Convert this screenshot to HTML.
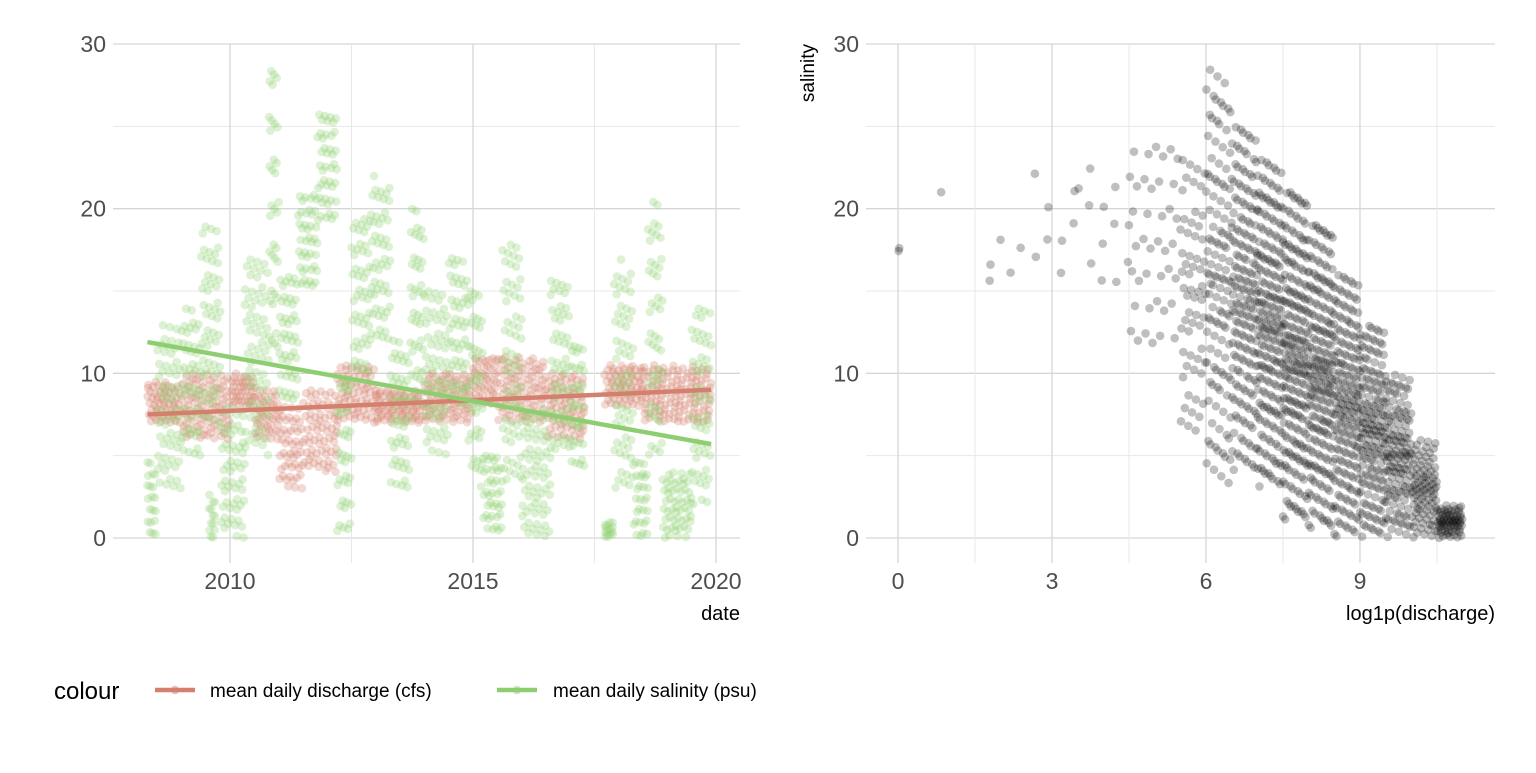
<!DOCTYPE html>
<html><head><meta charset="utf-8"><style>
body{margin:0;background:#fff;}
svg text{font-family:"Liberation Sans",sans-serif;}
</style></head><body>
<svg id="c" width="1536" height="768">
</svg>
<script>
// Left panel data: time bins [start, end, lo, hi]
const salStart=[2008.3,2008.5,2009.0,2009.4,2009.55,2009.8,2010.3,2010.8,2011.0,2011.4,2011.8,2012.2,2012.5,2012.9,2013.3,2013.7,2014.0,2014.5,2014.9,2015.2,2015.6,2016.0,2016.6,2017.0,2017.7,2017.9,2018.3,2018.6,2018.9,2019.5];
const salEnd  =[2008.5,2009.0,2009.4,2009.8,2009.7,2010.3,2010.8,2011.0,2011.4,2011.8,2012.2,2012.5,2012.9,2013.3,2013.7,2014.0,2014.5,2014.9,2015.2,2015.6,2016.0,2016.6,2017.0,2017.3,2017.9,2018.3,2018.6,2018.9,2019.5,2019.9];
const salLo   =[0,3,5,7,0,0,5,10,8,15,19,0,10,12,3,8,5,8,3,0,3,0,5,4,0,3,0,5,0,2];
const salHi   =[5,13,14,19,3,8,17,28.5,16,21,26,10,20,22,12,20,15,17,15,5,18,8,16,12,1,17,5,20.5,4,14];
const disStart=[2008.3,2009.0,2010.0,2010.5,2011.0,2011.5,2012.2,2013.0,2014.0,2015.0,2015.5,2016.5,2017.7,2018.5];
const disEnd  =[2009.0,2010.0,2010.5,2011.0,2011.5,2012.2,2013.0,2014.0,2015.0,2015.5,2016.5,2017.3,2018.5,2019.9];
const disLo   =[7,6,8,6,3,4,7,7,7,8,7,6,8,7];
const disHi   =[9.5,10,10,9,8,9,10.5,9,10,11,11,10,10.5,10.5];
const salTrend=[11.9,5.7];
const disTrend=[7.5,9.0];
const trendYears=[2008.3,2019.9];
// Right panel: log1p(discharge) bins
const scStart=[0,0.8,1.7,2.5,3.5,4.5,5.5,6.0,6.5,7.0,7.5,8.0,8.5,9.0,9.5,10.0,10.5];
const scEnd  =[0.05,0.85,2.5,3.5,4.5,5.5,6.0,6.5,7.0,7.5,8.0,8.5,9.0,9.5,10.0,10.5,11.0];
const scLo   =[17.4,21,15.5,16,14.5,11,6,3,4,3,1,0.5,0,0,0,0,0];
const scHi   =[17.8,21,19,23,22.5,24,24,28.5,25,23,21,19,16,13,10,6,2];
const scN    =[2,1,5,8,12,40,60,120,170,200,220,210,180,160,130,90,70];
const leftXTicks=[2010,2015,2020];
const rightXTicks=[0,3,6,9];
const yTicks=[0,10,20,30];

const svg=document.getElementById('c');
const NS='http://www.w3.org/2000/svg';
function el(t,a,p){const e=document.createElementNS(NS,t);for(const k in a)e.setAttribute(k,a[k]);(p||svg).appendChild(e);return e;}
const yS=v=>538-v*(494/30);
const xL=v=>230+(v-2010)*48.6;
const xR=v=>898+v*51.33;
const A1=0.7548776662,A2=0.5698402910;
const grid=el('g',{});

[[113,740],[866,1495]].forEach(([a,b])=>{
  for(let v=0;v<=30;v+=5) el('line',{x1:a,x2:b,y1:yS(v),y2:yS(v),stroke:v%10?'#e8e8e8':'#d6d6d6','stroke-width':v%10?1:1.3},grid);
});
for(let v=2007.5;v<=2020;v+=2.5){const x=xL(v);if(x<113)continue;el('line',{x1:x,x2:x,y1:44,y2:563,stroke:v%5?'#e8e8e8':'#d6d6d6','stroke-width':v%5?1:1.3},grid);}
for(let v=0;v<=10.5;v+=1.5){const x=xR(v);el('line',{x1:x,x2:x,y1:44,y2:563,stroke:v%3?'#e8e8e8':'#d6d6d6','stroke-width':v%3?1:1.3},grid);}
function bins(st,en,lo,hi,col,op,name,perYear){
  const g=el('g',{});
  
  for(let b=0;b<st.length;b++){
    const n=Math.max(3,Math.round((en[b]-st[b])*perYear*(1+(hi[b]-lo[b])/12)));
    for(let i=0;i<n;i++){
      const fx=(0.5+(i+b*7)*A1)%1,fy=(0.5+(i+b*7)*A2)%1;
      el('circle',{cx:xL(st[b]+(en[b]-st[b])*fx),cy:yS(lo[b]+(hi[b]-lo[b])*fy),r:4.3,fill:col,'fill-opacity':op},g);
    }
  }
}
bins(disStart,disEnd,disLo,disHi,'#d5806e',0.3,'discharge-points',70);
bins(salStart,salEnd,salLo,salHi,'#8dcf70',0.3,'salinity-points',70);
const t1=el('line',{x1:xL(trendYears[0]),x2:xL(trendYears[1]),y1:yS(disTrend[0]),y2:yS(disTrend[1]),stroke:'#d5806e','stroke-width':4.5});

const t2=el('line',{x1:xL(trendYears[0]),x2:xL(trendYears[1]),y1:yS(salTrend[0]),y2:yS(salTrend[1]),stroke:'#8dcf70','stroke-width':4.5});

const sg=el('g',{});

for(let b=0;b<scStart.length;b++){
  for(let i=0;i<scN[b];i++){
    const fx=(0.5+(i+b*11)*A1)%1;let fy=(0.5+(i+b*11)*A2)%1;
    if(scN[b]>50) fy=0.5+(fy-0.5)*(0.55+0.9*Math.abs(fy-0.5));
    el('circle',{cx:xR(scStart[b]+(scEnd[b]-scStart[b])*fx),cy:yS(scLo[b]+(scHi[b]-scLo[b])*fy),r:4.3,fill:'#000','fill-opacity':0.25},sg);
  }
}
function txt(x,y,s,attrs,name){const t=el('text',Object.assign({x:x,y:y},attrs));t.textContent=s;return t;}
yTicks.forEach(v=>{txt(106,yS(v)+8,v,{'text-anchor':'end','font-size':23,fill:'#4d4d4d'},'left-y-tick');txt(859,yS(v)+8,v,{'text-anchor':'end','font-size':23,fill:'#4d4d4d'},'right-y-tick');});
leftXTicks.forEach(v=>txt(xL(v),589,v,{'text-anchor':'middle','font-size':23,fill:'#4d4d4d'},'left-x-tick'));
rightXTicks.forEach(v=>txt(xR(v),589,v,{'text-anchor':'middle','font-size':23,fill:'#4d4d4d'},'right-x-tick'));
txt(740,620,'date',{'text-anchor':'end','font-size':20,fill:'#000'},'left-x-axis-title');
txt(1495,620,'log1p(discharge)',{'text-anchor':'end','font-size':20,fill:'#000'},'right-x-axis-title');
txt(0,0,'salinity',{'text-anchor':'end','font-size':19,fill:'#000',transform:'translate(814,44) rotate(-90)'},'right-y-axis-title');
const lg=el('g',{});

txt(54,699,'colour',{'font-size':24,fill:'#000'},'legend-title');
el('line',{x1:155,x2:195,y1:690,y2:690,stroke:'#d5806e','stroke-width':4.5},lg);
el('circle',{cx:175,cy:690,r:4.3,fill:'#d5806e','fill-opacity':0.5},lg);
txt(210,697,'mean daily discharge (cfs)',{'font-size':19,fill:'#000'},'legend-entry-discharge');
el('line',{x1:497,x2:537,y1:690,y2:690,stroke:'#8dcf70','stroke-width':4.5},lg);
el('circle',{cx:517,cy:690,r:4.3,fill:'#8dcf70','fill-opacity':0.5},lg);
txt(553,697,'mean daily salinity (psu)',{'font-size':19,fill:'#000'},'legend-entry-salinity');
</script>
</body></html>
